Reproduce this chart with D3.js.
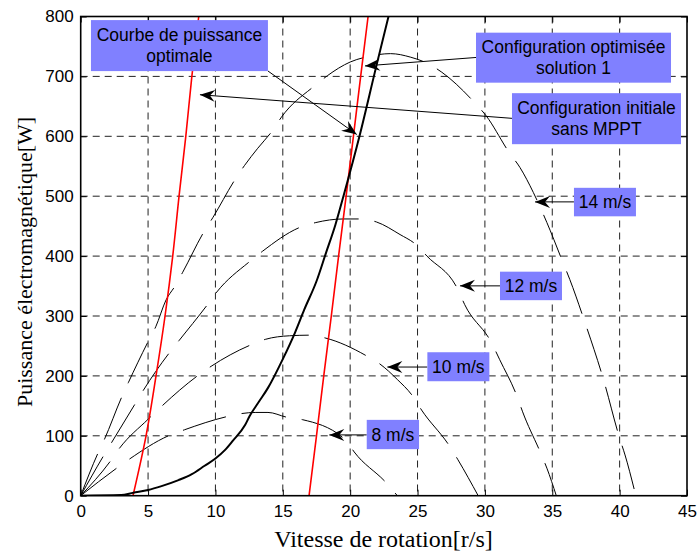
<!DOCTYPE html>
<html>
<head>
<meta charset="UTF-8">
<title>Puissance electromagnetique</title>
<script src="https://d3js.org/d3.v7.min.js"></script>
<style>
  body { margin: 0; background: #fff; }
  svg { display: block; }
</style>
</head>
<body>
<svg id="chart" width="698" height="552"></svg>
<script>
// wind speed curves, [vitesse r/s, puissance W]
const curve8 = [[0,0],[2.67,46],[3.61,61],[6.51,100],[7.7,110],[10.84,132],[11.9,137],[13,139],[13.9,139],[15.3,131],[16.45,127],[19.7,92],[20.3,73],[22.7,21],[23.5,0]];
const curve10 = [[0,0],[2.18,57],[2.87,79],[5.02,128],[6.09,151],[8.66,200],[9.68,216],[12.65,252],[13.7,261],[15.5,267],[17,268],[18.2,263],[21.25,233],[22.2,220],[23.5,194],[24.65,166],[25.3,143],[27.4,82],[28,60],[29.5,0]];
const curve12 = [[0,0],[1.68,66],[2.3,89],[4.03,153],[4.65,176],[6.56,238],[7.3,259],[9.41,319],[10.1,340],[12.6,392],[13.49,408],[16.38,449],[17.45,456],[19.5,462],[20.84,462],[21.95,457],[23.7,436],[24.9,419],[25.7,400],[28,344],[28.5,319],[30.5,255],[31.1,227],[32.4,165],[32.8,140],[34.2,68],[34.6,46],[35.3,0]];
const curve14 = [[0,0],[1.26,70],[1.76,94],[3.05,165],[3.54,189],[5.02,258],[5.57,282],[6.34,327],[7,350],[7.57,373],[9.13,440],[9.8,464],[11.46,528],[12.15,551],[13.14,580],[14.25,610],[14.9,632],[17.4,685],[18.3,701],[20,724],[21.3,733],[23,738],[24.5,732],[25.8,721],[26.8,707],[29.2,657],[30.1,634],[31.8,573],[32.6,548],[33.6,506],[34.6,456],[35.8,389],[36.3,361],[37.4,291],[38.8,194],[40,96],[40.4,68],[41.2,0]];
const windCurves = [curve8, curve10, curve12, curve14];

// courbe noire (puissance optimale)
const optimalCurve = [[0,0],[3,1],[3.9,5],[5,9.5],[6,16],[7.26,26],[8.25,36],[9.2,50],[10,62],[10.7,76],[11.3,92],[12.2,118],[12.54,133],[13.2,156],[13.9,180],[15,228],[15.9,272],[16.6,311],[17.5,358],[18.2,405],[18.9,452],[19.5,500],[20.7,601],[21.95,718],[22.9,805]];

// droites rouges
const redLine1 = [[3.88,0],[4.85,100],[5.59,200],[6.26,300],[6.83,400],[7.3,500],[7.8,600],[8.25,700],[8.76,800]];
const redLine2 = [[16.95,0],[17.5,100],[18.04,200],[18.6,300],[19.14,400],[19.7,500],[20.24,600],[20.78,700],[21.33,800]];

const xTicks = [0,5,10,15,20,25,30,35,40,45];
const yTicks = [0,100,200,300,400,500,600,700,800];

// annotations: text lines, box corner (data), box size (px), arrow tail / tip (data)
const annotations = [
  { lines: ["Courbe de puissance", "optimale"], box: [0.76, 794], size: [177, 51], tail: [13.9, 709], tip: [20.49, 603] },
  { lines: ["Configuration optimisée", "solution 1"], box: [29.34, 773], size: [195, 50], tail: [29.34, 731.6], tip: [21.1, 717.5] },
  { lines: ["Configuration initiale", "sans MPPT"], box: [32.01, 672], size: [169, 51], tail: [32.01, 630], tip: [8.85, 669.4] },
  { lines: ["14 m/s"], box: [36.61, 514], size: [62, 28.5], tail: [36.61, 490.5], tip: [33.72, 490.5] },
  { lines: ["12 m/s"], box: [31.12, 374], size: [62, 28.5], tail: [31.12, 350.3], tip: [28.15, 350.3] },
  { lines: ["10 m/s"], box: [25.73, 239.5], size: [62, 29], tail: [25.73, 214.8], tip: [22.76, 214.8] },
  { lines: ["8 m/s"], box: [21.23, 126.6], size: [52.3, 29.3], tail: [21.23, 101.5], tip: [18.45, 101.5] }
];

const svg = d3.select("#chart");
const margin = { left: 80.7, right: 11, top: 16.5, bottom: 56.3 };
const width = 698 - margin.left - margin.right;
const height = 552 - margin.top - margin.bottom;

const x = d3.scaleLinear().domain([0, 45]).range([0, width]);
const y = d3.scaleLinear().domain([0, 800]).range([height, 0]);

const g = svg.append("g").attr("transform", "translate(" + margin.left + "," + margin.top + ")");

svg.append("defs").append("clipPath").attr("id", "plotclip")
  .append("rect").attr("width", width).attr("height", height);

// grid
const grid = g.append("g").attr("stroke", "#222").attr("stroke-width", 1).attr("stroke-dasharray", "7,5");
grid.selectAll("line.vx").data(xTicks.slice(1, -1)).join("line")
  .attr("x1", d => x(d)).attr("x2", d => x(d)).attr("y1", 0).attr("y2", height);
grid.selectAll("line.hy").data(yTicks.slice(1, -1)).join("line")
  .attr("class", "hy")
  .attr("x1", 0).attr("x2", width).attr("y1", d => y(d)).attr("y2", d => y(d));

// curves
const line = d3.line().x(d => x(d[0])).y(d => y(d[1])).curve(d3.curveMonotoneX);
const plot = g.append("g").attr("clip-path", "url(#plotclip)");

plot.selectAll("path.wind").data(windCurves).join("path")
  .attr("class", "wind")
  .attr("d", line)
  .attr("fill", "none").attr("stroke", "#000").attr("stroke-width", 1)
  .attr("stroke-dasharray", "45,16");

const lineY = d3.line().x(d => x(d[0])).y(d => y(d[1])).curve(d3.curveMonotoneY);
plot.selectAll("path.red").data([redLine1, redLine2]).join("path")
  .attr("class", "red")
  .attr("d", lineY)
  .attr("fill", "none").attr("stroke", "#ff0000").attr("stroke-width", 1.6);

plot.append("path").datum(optimalCurve)
  .attr("d", line)
  .attr("fill", "none").attr("stroke", "#000").attr("stroke-width", 2);

// axes
const fontTick = "17px 'Liberation Sans', Arial, sans-serif";
g.append("g").attr("transform", "translate(0," + height + ")")
  .call(d3.axisBottom(x).tickValues(xTicks).tickSizeInner(-6).tickSizeOuter(0).tickPadding(9));
g.append("g")
  .call(d3.axisLeft(y).tickValues(yTicks).tickSizeInner(-6).tickSizeOuter(0).tickPadding(7));
g.append("g").call(d3.axisTop(x).tickValues(xTicks).tickSizeInner(-6).tickSizeOuter(0).tickFormat(""));
g.append("g").attr("transform", "translate(" + width + ",0)")
  .call(d3.axisRight(y).tickValues(yTicks).tickSizeInner(-6).tickSizeOuter(0).tickFormat(""));

g.selectAll(".domain").remove();
g.selectAll(".tick line").attr("stroke", "#000").attr("stroke-width", 1);
g.selectAll(".tick text").style("font", fontTick).attr("fill", "#000");

g.append("rect").attr("width", width).attr("height", height)
  .attr("fill", "none").attr("stroke", "#000").attr("stroke-width", 1.6);

// axis titles
svg.append("text")
  .attr("x", 383.5).attr("y", 547)
  .attr("text-anchor", "middle")
  .style("font", "24px 'Liberation Serif', 'Times New Roman', serif")
  .text("Vitesse de rotation[r/s]");

svg.append("text")
  .attr("transform", "translate(32," + 262 + ") rotate(-90)")
  .attr("text-anchor", "middle")
  .style("font", "22px 'Liberation Serif', 'Times New Roman', serif")
  .text("Puissance électromagnétique[W]");

// annotations
const notes = svg.append("g").attr("transform", "translate(" + margin.left + "," + margin.top + ")");
const arrowHead = "M0,0 L-15,-6 L-10,0 L-15,6 Z";

annotations.forEach(a => {
  const tx = x(a.tail[0]), ty = y(a.tail[1]);
  const px = x(a.tip[0]), py = y(a.tip[1]);
  notes.append("line")
    .attr("x1", tx).attr("y1", ty).attr("x2", px).attr("y2", py)
    .attr("stroke", "#000").attr("stroke-width", 1);
  const ang = Math.atan2(py - ty, px - tx) * 180 / Math.PI;
  notes.append("path")
    .attr("d", arrowHead)
    .attr("transform", "translate(" + px + "," + py + ") rotate(" + ang + ")")
    .attr("fill", "#000");

  const bx = x(a.box[0]), by = y(a.box[1]);
  const [bw, bh] = a.size;
  notes.append("rect")
    .attr("x", bx).attr("y", by).attr("width", bw).attr("height", bh)
    .attr("fill", "#8080ff");
  const lh = 21;
  const first = by + bh / 2 - (a.lines.length - 1) * lh / 2 + 6;
  a.lines.forEach((t, i) => {
    notes.append("text")
      .attr("x", bx + bw / 2).attr("y", first + i * lh)
      .attr("text-anchor", "middle")
      .style("font", "17.5px 'Liberation Sans', Arial, sans-serif")
      .attr("fill", "#000")
      .text(t);
  });
});
</script>
</body>
</html>
